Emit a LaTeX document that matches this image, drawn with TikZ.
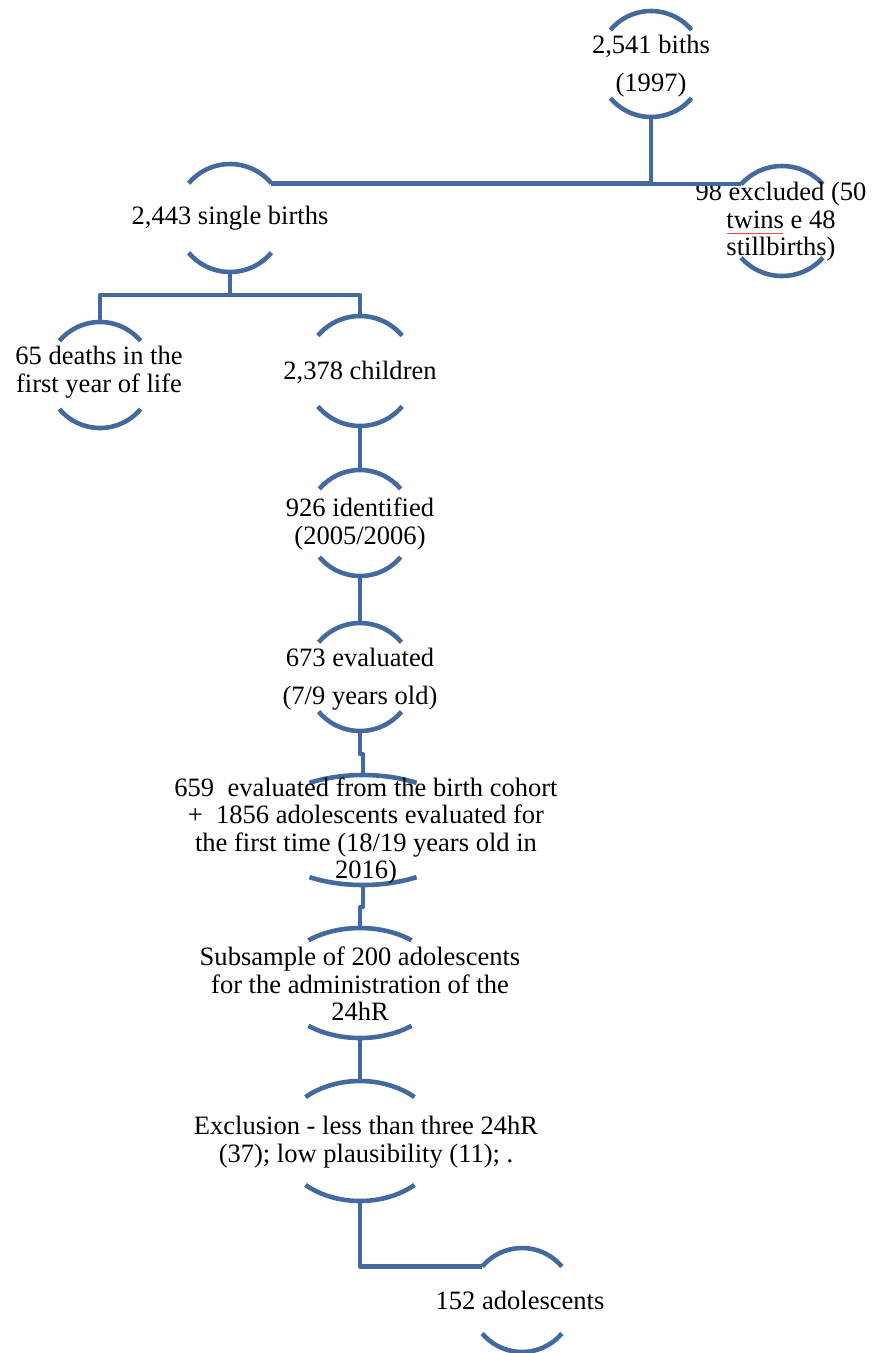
\documentclass[tikz,border=0pt]{standalone}
\usepackage{fontspec}
\setmainfont{Liberation Serif}
\definecolor{ringblue}{HTML}{43699E}

\begin{document}
\begin{tikzpicture}[x=0.02cm,y=-0.02cm,
	link/.style={draw=ringblue,line width=2.6pt,line join=round},
	lbl/.style={align=center,inner sep=0pt,font=\fontsize{15.1}{15.7}\selectfont},
	pics/ring/.style n args={3}{code={
		\draw[link] (-#3:#1 and #2) arc[start angle=-#3,end angle=-180+#3,x radius=#1,y radius=#2];
		\draw[link] (#3:#1 and #2) arc[start angle=#3,end angle=180-#3,x radius=#1,y radius=#2];
		\coordinate (-t) at (0,-#2);
		\coordinate (-b) at (0,#2);
		\coordinate (-tl) at (-180+#3:#1 and #2);
		\coordinate (-tr) at (-#3:#1 and #2);
	}}]
	\useasboundingbox (0,0) rectangle (875,1353);
		\pic (births) at (651,64) {ring={53}{53}{40}};
		\pic (single) at (230,218) {ring={54}{54}{40}};
		\pic (excluded) at (782,221) {ring={55}{55}{42}};
		\pic (deaths) at (100,375) {ring={53}{53}{40}};
		\pic (children) at (360,371) {ring={55}{55}{40}};
		\pic (identified) at (360,523) {ring={53}{53}{40}};
		\pic (evaluated) at (360,677) {ring={54}{54}{40}};
		\pic (cohort) at (363,830) {ring={104}{55}{59}};
		\pic (subsample) at (360,983) {ring={82}{55}{51}};
		\pic (exclusion) at (360,1141) {ring={80}{60}{47}};
		\pic (adolescents) at (522,1300) {ring={52}{52}{40}};
	\node[lbl] (births lbl) at (651,66) {2,541 biths\\[5.8pt](1997)};
	\node[lbl] (single lbl) at (230,218) {2,443 single births};
	\node[lbl] (excluded lbl) at (781,222) {98 excluded (50\\twins e 48\\stillbirths)};
	\draw[red!75,line width=0.5pt] (727,233) -- (783,233);
	\node[lbl] (deaths lbl) at (99,372) {65 deaths in the\\first year of life};
	\node[lbl] (children lbl) at (360,372) {2,378 children};
	\node[lbl] (identified lbl) at (360,524) {926 identified\\(2005/2006)};
	\node[lbl] (evaluated lbl) at (360,679) {673 evaluated\\[5.6pt](7/9 years old)};
	\node[lbl] (cohort lbl) at (366,831) {659~ evaluated from the birth cohort\\+~ 1856 adolescents evaluated for\\the first time (18/19 years old in\\2016)};
	\node[lbl] (subsample lbl) at (360,984) {Subsample of 200 adolescents\\for the administration of the\\24hR};
	\node[lbl] (exclusion lbl) at (366,1142) {Exclusion - less than three 24hR\\(37); low plausibility (11); .};
	\node[lbl] (adolescents lbl) at (520,1300) {152 adolescents};
	% connectors
	\coordinate (fork) at (230,295);
	\draw[link] (births-b) |- (single-tr);
	\draw[link] (births-b) |- (excluded-tl);
	\draw[link] (single-b) -- (fork) -| (deaths-t);
	\draw[link] (fork) -| (children-t);
	\draw[link] (children-b) -- (identified-t);
	\draw[link] (identified-b) -- (evaluated-t);
	\draw[link] (evaluated-b) -- ++(0,23) -| (cohort-t);
	\draw[link] (cohort-b) -- ++(0,22) -| (subsample-t);
	\draw[link] (subsample-b) -- (exclusion-t);
	\draw[link] (exclusion-b) |- (adolescents-tl);
\end{tikzpicture}
\end{document}
